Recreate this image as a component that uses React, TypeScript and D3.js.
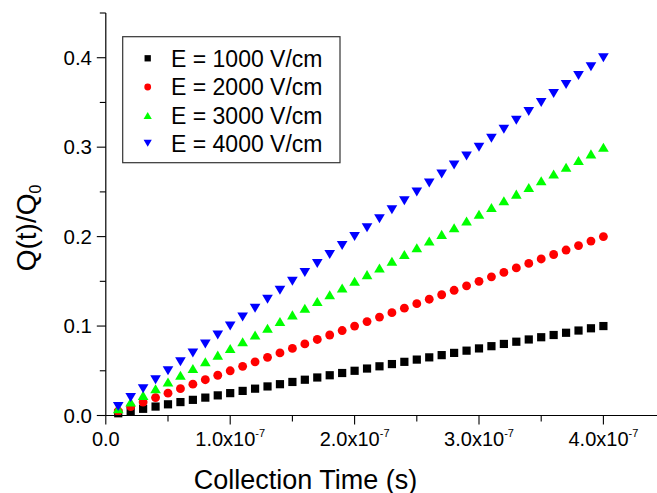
import React from "react";
import * as d3 from "d3";

// Collection time in units of 1e-7 s
const times = [0.1,0.2,0.3,0.4,0.5,0.6,0.7,0.8,0.9,1.0,1.1,1.2,1.3,1.4,1.5,1.6,1.7,1.8,1.9,2.0,2.1,2.2,2.3,2.4,2.5,2.6,2.7,2.8,2.9,3.0,3.1,3.2,3.3,3.4,3.5,3.6,3.7,3.8,3.9,4.0];

const e1000 = [0.0025,0.005,0.0075,0.01,0.0125,0.015,0.0175,0.02,0.0225,0.025,0.0275,0.03,0.0325,0.035,0.0375,0.04,0.0425,0.045,0.0475,0.05,0.0525,0.055,0.0575,0.06,0.0625,0.065,0.0675,0.07,0.0725,0.075,0.0775,0.08,0.0825,0.085,0.0875,0.09,0.0925,0.095,0.0975,0.1];
const e2000 = [0.005,0.01,0.015,0.02,0.025,0.03,0.035,0.04,0.045,0.05,0.055,0.06,0.065,0.07,0.075,0.08,0.085,0.09,0.095,0.1,0.105,0.11,0.115,0.12,0.125,0.13,0.135,0.14,0.145,0.15,0.155,0.16,0.165,0.17,0.175,0.18,0.185,0.19,0.195,0.2];
const e3000 = [0.0075,0.015,0.0225,0.03,0.0375,0.045,0.0525,0.06,0.0675,0.075,0.0825,0.09,0.0975,0.105,0.1125,0.12,0.1275,0.135,0.1425,0.15,0.1575,0.165,0.1725,0.18,0.1875,0.195,0.2025,0.21,0.2175,0.225,0.2325,0.24,0.2475,0.255,0.2625,0.27,0.2775,0.285,0.2925,0.3];
const e4000 = [0.01,0.02,0.03,0.04,0.05,0.06,0.07,0.08,0.09,0.1,0.11,0.12,0.13,0.14,0.15,0.16,0.17,0.18,0.19,0.2,0.21,0.22,0.23,0.24,0.25,0.26,0.27,0.28,0.29,0.3,0.31,0.32,0.33,0.34,0.35,0.36,0.37,0.38,0.39,0.4];

const seriesNames = ["E = 1000 V/cm", "E = 2000 V/cm", "E = 3000 V/cm", "E = 4000 V/cm"];
const seriesColors = ["#000000", "#ff0000", "#00ff00", "#0000ff"];
const seriesShapes = ["square", "circle", "up", "down"];
const seriesData = [e1000, e2000, e3000, e4000];

const xMajorTicks = [0, 1, 2, 3, 4];
const xTickLabels = ["0.0", "1.0x10", "2.0x10", "3.0x10", "4.0x10"];
const yMajorTicks = [0, 0.1, 0.2, 0.3, 0.4];
const yTickLabels = ["0.0", "0.1", "0.2", "0.3", "0.4"];

const W = 657;
const H = 493;
const FONT = "'Liberation Sans', Arial, sans-serif";

function Marker({ shape, x, y, s, color }: { shape: string; x: number; y: number; s: number; color: string }) {
  if (shape === "square") {
    return <rect x={x - s / 2} y={y - s / 2} width={s} height={s} fill={color} />;
  }
  if (shape === "circle") {
    return <circle cx={x} cy={y} r={s * 0.54} fill={color} />;
  }
  const w = s * 1.3;
  const h = s * 1.1;
  if (shape === "up") {
    return <path d={`M${x},${y - h / 2}L${x + w / 2},${y + h / 2}L${x - w / 2},${y + h / 2}Z`} fill={color} />;
  }
  return <path d={`M${x},${y + h / 2}L${x + w / 2},${y - h / 2}L${x - w / 2},${y - h / 2}Z`} fill={color} />;
}

export default function App() {
  const x = d3.scaleLinear().domain([0, 4.5]).range([105.8, 105.8 + 4.5 * 124.4]);
  const y = d3.scaleLinear().domain([0, 0.45]).range([415.5, 13]);

  const xMinor = d3.range(0.5, 4.6, 1);
  const yMinor = d3.range(0.05, 0.46, 0.1);

  const legendRows = [58.3, 87, 115.5, 143.3];

  return (
    <svg
      width={W}
      height={H}
      style={{ position: "absolute", left: 0, top: 0, background: "#fff" }}
      fontFamily={FONT}
    >
      <rect x={0} y={0} width={W} height={H} fill="#fff" />
      {/* data */}
      {seriesData.map((vals, si) => (
        <g key={si}>
          {vals.map((v, i) => (
            <Marker key={i} shape={seriesShapes[si]} x={x(times[i])} y={y(v)} s={8.2} color={seriesColors[si]} />
          ))}
        </g>
      ))}
      {/* axes */}
      <line x1={x(0)} x2={x(4.5)} y1={y(0)} y2={y(0)} stroke="#000" strokeWidth={1.2} />
      <line x1={x(0)} x2={x(0)} y1={y(0)} y2={y(0.45)} stroke="#000" strokeWidth={1.2} />
      {xMajorTicks.map((t, i) => (
        <g key={"xt" + i}>
          <line x1={x(t)} x2={x(t)} y1={y(0)} y2={y(0) + 9} stroke="#000" strokeWidth={1.1} />
          <text x={x(t)} y={446} fontSize={20} textAnchor="middle" fill="#000">
            {xTickLabels[i]}
            {i > 0 ? (
              <tspan fontSize={11} dy={-9}>
                -7
              </tspan>
            ) : null}
          </text>
        </g>
      ))}
      {xMinor.map((t, i) => (
        <line key={"xm" + i} x1={x(t)} x2={x(t)} y1={y(0)} y2={y(0) + 6} stroke="#000" strokeWidth={1.1} />
      ))}
      {yMajorTicks.map((t, i) => (
        <g key={"yt" + i}>
          <line x1={x(0) - 9} x2={x(0)} y1={y(t)} y2={y(t)} stroke="#000" strokeWidth={1.1} />
          <text x={92} y={y(t) + 7.2} fontSize={20.5} textAnchor="end" fill="#000">
            {yTickLabels[i]}
          </text>
        </g>
      ))}
      {yMinor.map((t, i) => (
        <line key={"ym" + i} x1={x(0) - 6} x2={x(0)} y1={y(t)} y2={y(t)} stroke="#000" strokeWidth={1.1} />
      ))}
      {/* axis titles */}
      <text x={305.5} y={489} fontSize={27} textAnchor="middle" fill="#000">
        Collection Time (s)
      </text>
      <text transform="translate(36,228) rotate(-90)" fontSize={28} textAnchor="middle" fill="#000">
        Q(t)/Q
        <tspan fontSize={16} dy={5}>
          0
        </tspan>
      </text>
      {/* legend */}
      <rect x={122.7} y={36.7} width={217.3} height={126} fill="#fff" stroke="#333" strokeWidth={1.2} />
      {seriesNames.map((name, i) => (
        <g key={"lg" + i}>
          <Marker shape={seriesShapes[i]} x={147.7} y={legendRows[i]} s={6.3} color={seriesColors[i]} />
          <text x={171} y={legendRows[i] + 8.3} fontSize={23} fill="#000">
            {name}
          </text>
        </g>
      ))}
    </svg>
  );
}
